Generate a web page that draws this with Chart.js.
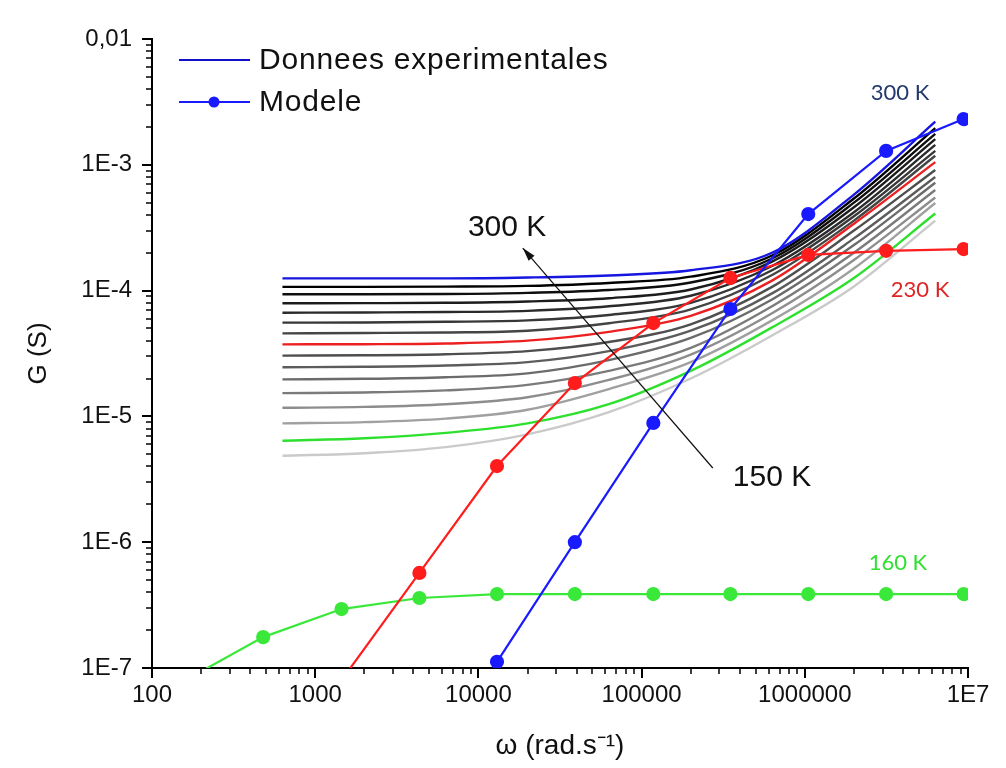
<!DOCTYPE html>
<html>
<head>
<meta charset="utf-8">
<script src="https://cdn.jsdelivr.net/npm/chart.js@4"></script>
<style>
  html, body { margin: 0; padding: 0; background: #fff; }
</style>
</head>
<body>
<canvas id="chart" width="1006" height="768"></canvas>
<script>
// experimental curves, G (S) vs omega (rad/s), one array per temperature
const omegaExp = [630, 2000, 6300, 20000, 63000, 200000, 630000, 2000000, 6300000];
const g300 = [1.25e-4, 1.25e-4, 1.25e-4, 1.27e-4, 1.32e-4, 1.45e-4, 2.0e-4, 5.8e-4, 2.2e-3];
const g290 = [1.07e-4, 1.07e-4, 1.075e-4, 1.09e-4, 1.15e-4, 1.29e-4, 1.9e-4, 5.4e-4, 1.96e-3];
const g280 = [9.35e-5, 9.35e-5, 9.4e-5, 9.6e-5, 1.01e-4, 1.16e-4, 1.8e-4, 5.0e-4, 1.76e-3];
const g270 = [7.93e-5, 7.95e-5, 8.0e-5, 8.2e-5, 8.7e-5, 1.02e-4, 1.7e-4, 4.6e-4, 1.6e-3];
const g260 = [6.67e-5, 6.7e-5, 6.75e-5, 6.9e-5, 7.5e-5, 9.1e-5, 1.57e-4, 4.2e-4, 1.44e-3];
const g250 = [5.56e-5, 5.58e-5, 5.65e-5, 5.8e-5, 6.4e-5, 8.0e-5, 1.45e-4, 3.9e-4, 1.29e-3];
const g240 = [4.57e-5, 4.6e-5, 4.65e-5, 4.8e-5, 5.5e-5, 7.1e-5, 1.33e-4, 3.6e-4, 1.18e-3];
const g230 = [3.74e-5, 3.75e-5, 3.8e-5, 4.0e-5, 4.7e-5, 6.3e-5, 1.2e-4, 3.4e-4, 1.05e-3];
const g220 = [3.04e-5, 3.06e-5, 3.12e-5, 3.3e-5, 3.9e-5, 5.4e-5, 1.07e-4, 3.0e-4, 9.1e-4];
const g210 = [2.46e-5, 2.48e-5, 2.54e-5, 2.7e-5, 3.3e-5, 4.8e-5, 9.5e-5, 2.6e-4, 8.0e-4];
const g200 = [1.97e-5, 1.99e-5, 2.05e-5, 2.2e-5, 2.8e-5, 4.2e-5, 8.5e-5, 2.3e-4, 7.2e-4];
const g190 = [1.53e-5, 1.55e-5, 1.61e-5, 1.78e-5, 2.3e-5, 3.5e-5, 7.5e-5, 2.0e-4, 6.3e-4];
const g180 = [1.17e-5, 1.19e-5, 1.25e-5, 1.42e-5, 1.95e-5, 3.1e-5, 6.6e-5, 1.75e-4, 5.5e-4];
const g170 = [8.8e-6, 9.0e-6, 9.6e-6, 1.13e-5, 1.65e-5, 2.7e-5, 5.8e-5, 1.5e-4, 4.97e-4];
const g160 = [6.4e-6, 6.7e-6, 7.4e-6, 8.8e-6, 1.25e-5, 2.3e-5, 5.1e-5, 1.26e-4, 4.1e-4];
const g150 = [4.87e-6, 5.1e-6, 5.7e-6, 7.2e-6, 1.08e-5, 2.0e-5, 4.4e-5, 1.08e-4, 3.6e-4];

// model curves
const omegaModel = [160, 480, 1450, 4350, 13000, 39000, 118000, 350000, 1050000, 3150000, 9400000];
const model300 = [null, null, null, null, 1.12e-7, 1.0e-6, 8.87e-6, 7.14e-5, 4.06e-4, 1.29e-3, 2.31e-3];
const model230 = [null, null, 8e-8, 5.7e-7, 4.03e-6, 1.84e-5, 5.52e-5, 1.26e-4, 1.92e-4, 2.07e-4, 2.14e-4];
const model160 = [8e-8, 1.76e-7, 2.94e-7, 3.6e-7, 3.87e-7, 3.87e-7, 3.87e-7, 3.87e-7, 3.87e-7, 3.87e-7, 3.87e-7];

// axis ticks
const xTickValues = [100, 1000, 10000, 100000, 1000000, 10000000];
const xTickLabels = ['100', '1000', '10000', '100000', '1000000', '1E7'];
const yTickValues = [1e-7, 1e-6, 1e-5, 1e-4, 1e-3, 1e-2];
const yTickLabels = ['1E-7', '1E-6', '1E-5', '1E-4', '1E-3', '0,01'];

const temps = [300, 290, 280, 270, 260, 250, 240, 230, 220, 210, 200, 190, 180, 170, 160, 150];
const expSeries = [g300, g290, g280, g270, g260, g250, g240, g230, g220, g210, g200, g190, g180, g170, g160, g150];
const expColors = ['#1616e0', '#000000', '#0e0e0e', '#1c1c1c', '#2a2a2a', '#373737', '#444444', '#ec2020',
                   '#4e4e4e', '#5c5c5c', '#6b6b6b', '#7b7b7b', '#8d8d8d', '#a0a0a0', '#2ee02e', '#cacaca'];

const modelSeries = [model300, model230, model160];
const modelNames = ['300 K', '230 K', '160 K'];
const modelColors = ['#1a1aff', '#ff1c1c', '#3ae83a'];

// text annotations (in data units)
const noteText = ['300 K', '230 K', '160 K', '300 K', '150 K'];
const noteOmega = [3.83e6, 5.08e6, 3.72e6, 1.5e4, 6.3e5];
const noteG = [3.72e-3, 1.01e-4, 6.84e-7, 3.15e-4, 3.24e-6];
const arrowFrom = [2.73e5, 3.89e-6];
const arrowTo = [1.87e4, 2.18e-4];

const datasets = [];
modelSeries.forEach((vals, i) => {
  datasets.push({
    label: 'Modele ' + modelNames[i],
    data: omegaModel.map((w, j) => ({ x: w, y: vals[j] })),
    borderColor: modelColors[i],
    backgroundColor: modelColors[i],
    borderWidth: 2.2,
    pointRadius: 6,
    pointHoverRadius: 6,
    tension: 0,
    order: 0
  });
});
expSeries.forEach((vals, i) => {
  const colored = temps[i] === 300 || temps[i] === 230 || temps[i] === 160;
  datasets.push({
    label: temps[i] + ' K',
    data: omegaExp.map((w, j) => ({ x: w, y: vals[j] })),
    borderColor: expColors[i],
    borderWidth: 2.4,
    pointRadius: 0,
    cubicInterpolationMode: 'monotone',
    order: colored ? 1 : 2
  });
});

const tickMarks = {
  id: 'tickMarks',
  afterDraw(chart) {
    const { ctx, scales: { x, y } } = chart;
    ctx.save();
    ctx.strokeStyle = '#000';
    for (let e = 2; e < 7; e++) {
      for (let k = 1; k < 10; k++) {
        const px = Math.round(x.getPixelForValue(k * Math.pow(10, e)));
        ctx.lineWidth = k === 1 ? 2 : 1.5;
        ctx.beginPath();
        ctx.moveTo(px, x.top);
        ctx.lineTo(px, x.top + (k === 1 ? 10 : 6));
        ctx.stroke();
      }
    }
    const pxEnd = Math.round(x.getPixelForValue(1e7));
    ctx.lineWidth = 2;
    ctx.beginPath(); ctx.moveTo(pxEnd, x.top); ctx.lineTo(pxEnd, x.top + 10); ctx.stroke();
    for (let e = -7; e < -2; e++) {
      for (let k = 1; k < 10; k++) {
        const py = Math.round(y.getPixelForValue(k * Math.pow(10, e)));
        ctx.lineWidth = k === 1 ? 2 : 1.5;
        ctx.beginPath();
        ctx.moveTo(y.right, py);
        ctx.lineTo(y.right - (k === 1 ? 10 : 6), py);
        ctx.stroke();
      }
    }
    const pyEnd = Math.round(y.getPixelForValue(1e-2));
    ctx.lineWidth = 2;
    ctx.beginPath(); ctx.moveTo(y.right, pyEnd); ctx.lineTo(y.right - 10, pyEnd); ctx.stroke();
    ctx.restore();
  }
};

const notes = {
  id: 'notes',
  afterDraw(chart) {
    const { ctx, scales: { x, y } } = chart;
    ctx.save();
    // arrow 150 K -> 300 K
    const x0 = x.getPixelForValue(arrowFrom[0]), y0 = y.getPixelForValue(arrowFrom[1]);
    const x1 = x.getPixelForValue(arrowTo[0]), y1 = y.getPixelForValue(arrowTo[1]);
    ctx.strokeStyle = '#111';
    ctx.fillStyle = '#111';
    ctx.lineWidth = 1.2;
    ctx.beginPath(); ctx.moveTo(x0, y0); ctx.lineTo(x1, y1); ctx.stroke();
    const a = Math.atan2(y1 - y0, x1 - x0);
    ctx.beginPath();
    ctx.moveTo(x1, y1);
    ctx.lineTo(x1 - 14 * Math.cos(a - 0.28), y1 - 14 * Math.sin(a - 0.28));
    ctx.lineTo(x1 - 14 * Math.cos(a + 0.28), y1 - 14 * Math.sin(a + 0.28));
    ctx.closePath(); ctx.fill();

    ctx.textAlign = 'center';
    ctx.textBaseline = 'middle';
    const noteColors = ['#22386e', '#e02424', '#30e030', '#111111', '#111111'];
    const noteFonts = ['22px Lato', '22px Lato', '22px Lato', '30px "Liberation Sans"', '30px "Liberation Sans"'];
    noteText.forEach((t, i) => {
      ctx.fillStyle = noteColors[i];
      ctx.font = noteFonts[i];
      ctx.fillText(t, x.getPixelForValue(noteOmega[i]), y.getPixelForValue(noteG[i]));
    });

    // legend
    ctx.lineWidth = 2.2;
    ctx.strokeStyle = '#1010c8';
    ctx.beginPath(); ctx.moveTo(179, 60); ctx.lineTo(250, 60); ctx.stroke();
    ctx.strokeStyle = '#1a1aff';
    ctx.fillStyle = '#1a1aff';
    ctx.beginPath(); ctx.moveTo(179, 102); ctx.lineTo(250, 102); ctx.stroke();
    ctx.beginPath(); ctx.arc(214, 102, 5.5, 0, Math.PI * 2); ctx.fill();
    ctx.fillStyle = '#111';
    ctx.textAlign = 'left';
    ctx.font = '30px "Liberation Sans"';
    ctx.letterSpacing = '0.8px';
    ctx.fillText('Donnees experimentales', 259, 61);
    ctx.fillText('Modele', 259, 103);
    ctx.restore();
  }
};

Chart.defaults.font.family = '"Liberation Sans", Arial, sans-serif';
Chart.defaults.color = '#111';

new Chart(document.getElementById('chart').getContext('2d'), {
  type: 'line',
  data: { datasets: datasets },
  options: {
    responsive: false,
    devicePixelRatio: 1,
    animation: false,
    layout: { padding: { left: 0, right: 38, top: 39, bottom: 0 } },
    plugins: { legend: { display: false }, tooltip: { enabled: false } },
    scales: {
      x: {
        type: 'logarithmic',
        position: 'bottom',
        min: 100,
        max: 1e7,
        grid: { display: false, drawTicks: false },
        border: { display: true, color: '#000', width: 2 },
        afterBuildTicks: s => { s.ticks = xTickValues.map(v => ({ value: v })); },
        afterFit: s => { s.height = 100; },
        ticks: {
          autoSkip: false,
          maxRotation: 0,
          padding: 13,
          font: { size: 24 },
          callback: (v, i) => xTickLabels[i]
        },
        title: {
          display: true,
          text: 'ω (rad.s⁻¹)',
          font: { size: 28 },
          padding: { top: 0, bottom: 5 }
        }
      },
      y: {
        type: 'logarithmic',
        min: 1e-7,
        max: 1e-2,
        grid: { display: false, drawTicks: false },
        border: { display: true, color: '#000', width: 2 },
        afterBuildTicks: s => { s.ticks = yTickValues.map(v => ({ value: v })); },
        afterFit: s => { s.width = 152; },
        ticks: {
          autoSkip: false,
          padding: 20,
          font: { size: 24 },
          callback: (v, i) => yTickLabels[i]
        },
        title: {
          display: true,
          text: 'G (S)',
          font: { size: 26 },
          padding: { top: 23, bottom: 0 }
        }
      }
    }
  },
  plugins: [tickMarks, notes]
});
</script>
</body>
</html>
